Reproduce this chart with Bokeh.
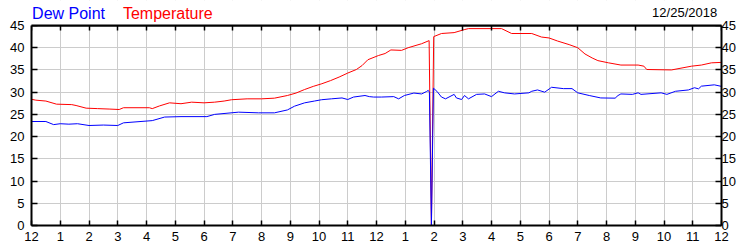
from bokeh.plotting import figure
from bokeh.models import Range1d, LinearAxis, FixedTicker, Label, BoxAnnotation, Span
from bokeh.embed import file_html
from bokeh.resources import INLINE

# ---- data ----
hour_labels = ["12", "1", "2", "3", "4", "5", "6", "7", "8", "9", "10", "11",
               "12", "1", "2", "3", "4", "5", "6", "7", "8", "9", "10", "11", "12"]
y_ticks = [0, 5, 10, 15, 20, 25, 30, 35, 40, 45]

temp_hours = [0.0, 0.15, 0.5, 0.87, 1.4, 1.55, 1.9, 2.3, 2.7, 3.05, 3.2, 3.6, 4.1, 4.2,
              4.45, 4.8, 5.2, 5.57, 6.0, 6.37, 6.7, 6.96, 7.5, 8.0, 8.45, 8.9, 9.2, 9.5,
              9.8, 10.1, 10.4, 10.7, 11.0, 11.3, 11.5, 11.7, 12.07, 12.3, 12.5, 12.87,
              13.1, 13.57, 13.83, 13.91, 13.99, 14.26, 14.7, 15.07, 15.2, 16.35, 16.7,
              17.4, 17.74, 18.0, 18.3, 18.7, 19.0, 19.25, 19.5, 19.7, 20.07, 20.5, 21.1,
              21.3, 21.4, 22.26, 22.96, 23.3, 23.65, 24.0]
temperature = [28.4, 28.2, 28.0, 27.3, 27.2, 27.0, 26.4, 26.3, 26.2, 26.1, 26.5, 26.5,
               26.5, 26.3, 26.9, 27.6, 27.4, 27.75, 27.6, 27.75, 28.0, 28.3, 28.5, 28.5,
               28.65, 29.25, 29.8, 30.6, 31.3, 31.9, 32.6, 33.4, 34.3, 35.1, 36.0, 37.3,
               38.25, 38.7, 39.5, 39.4, 40.0, 40.9, 41.6, 0.0, 42.5, 43.2, 43.4, 44.1,
               44.3, 44.3, 43.2, 43.2, 42.4, 42.2, 41.5, 40.7, 40.0, 38.6, 37.7, 37.1,
               36.6, 36.1, 36.1, 35.85, 35.1, 35.0, 35.85, 36.1, 36.6, 36.7]

dew_hours = [0.0, 0.5, 0.77, 1.0, 1.3, 1.6, 2.0, 2.5, 3.0, 3.2, 3.6, 4.2, 4.63, 5.2, 6.1,
             6.37, 7.2, 7.9, 8.45, 8.9, 9.15, 9.5, 9.84, 10.09, 10.43, 10.8, 11.0, 11.2,
             11.6, 11.75, 11.9, 12.17, 12.6, 12.77, 12.97, 13.3, 13.57, 13.74, 13.8,
             13.84, 13.91, 13.98, 14.1, 14.26, 14.4, 14.7, 14.78, 14.96, 15.06, 15.2,
             15.48, 15.76, 16.0, 16.24, 16.45, 16.8, 17.3, 17.4, 17.6, 17.85, 18.09,
             18.5, 18.8, 19.0, 19.4, 19.8, 20.3, 20.4, 20.5, 20.9, 21.1, 21.2, 21.9,
             22.1, 22.4, 22.85, 23.06, 23.2, 23.3, 23.75, 24.0]
dew_point = [23.4, 23.4, 22.7, 22.9, 22.8, 22.9, 22.5, 22.6, 22.5, 23.1, 23.3, 23.6, 24.4,
             24.5, 24.5, 25.0, 25.5, 25.35, 25.35, 26.0, 26.85, 27.6, 28.0, 28.3, 28.5,
             28.7, 28.35, 28.9, 29.25, 29.0, 28.9, 28.9, 29.0, 28.5, 29.25, 29.8, 29.6,
             30.15, 30.4, 30.0, 0.0, 30.9, 30.2, 28.9, 28.5, 29.5, 28.7, 28.35, 29.25,
             28.5, 29.5, 29.6, 29.0, 30.2, 29.85, 29.6, 29.85, 30.2, 30.5, 30.0, 31.1,
             30.8, 30.8, 29.85, 29.25, 28.7, 28.65, 29.25, 29.6, 29.5, 29.85, 29.5, 29.85,
             29.5, 30.2, 30.5, 31.0, 30.75, 31.35, 31.65, 31.3]

series_names = ["Dew Point", "Temperature"]
series_colors = ["#0000ff", "#ff0000"]
date_text = "12/25/2018"

FONT = "Liberation Sans"
Y_TOP = 45
Y_MAX = 50.625  # frame extends above the plotted box to host the header texts

p = figure(width=750, height=250, output_backend="svg", toolbar_location=None,
           x_range=Range1d(0, 24), y_range=Range1d(0, Y_MAX),
           x_axis_location=None, y_axis_location=None,
           min_border_left=31, min_border_right=29, min_border_top=0, min_border_bottom=25)
p.background_fill_color = "white"
p.border_fill_color = "white"
p.outline_line_color = None

hour_ticks = list(range(len(hour_labels)))
overrides = {i: lab for i, lab in enumerate(hour_labels)}


def style_axis(ax, ticks, labels=True, standoff=6):
    ax.ticker = FixedTicker(ticks=ticks)
    ax.major_tick_in = 5
    ax.major_tick_out = 0
    ax.minor_tick_line_color = None
    ax.axis_line_color = "black"
    ax.axis_line_width = 2
    ax.major_tick_line_color = "black"
    ax.major_tick_line_width = 1.5
    ax.major_label_standoff = standoff
    ax.major_label_text_font = FONT
    ax.major_label_text_font_size = "13px"
    ax.major_label_text_color = "black"
    if not labels:
        ax.major_label_standoff = 0
        ax.major_label_text_font_size = "0px"
        ax.major_label_text_color = None


p.xgrid.ticker = FixedTicker(ticks=hour_ticks)
p.ygrid.ticker = FixedTicker(ticks=y_ticks)
for g in (p.xgrid, p.ygrid):
    g.grid_line_color = "#cccccc"
    g.grid_line_width = 1

left = LinearAxis(bounds=(0, Y_TOP))
style_axis(left, y_ticks, standoff=7)
left.major_tick_in = 6
p.add_layout(left, "left")

right = LinearAxis(bounds=(0, Y_TOP))
style_axis(right, y_ticks, standoff=0)
right.major_tick_in = 6
p.add_layout(right, "right")

below = LinearAxis()
style_axis(below, hour_ticks, standoff=6)
below.major_label_overrides = overrides
p.add_layout(below, "below")

above = LinearAxis(fixed_location=Y_TOP)
style_axis(above, hour_ticks, labels=False)
p.add_layout(above, "above")

p.line(temp_hours, temperature, line_color=series_colors[1], line_width=1)
p.line(dew_hours, dew_point, line_color=series_colors[0], line_width=1)

# header band above the plotted box
p.add_layout(BoxAnnotation(bottom=Y_TOP, fill_color="white", fill_alpha=1.0,
                           line_color=None))
p.add_layout(Span(location=Y_TOP, dimension="width", line_color="black", line_width=2))

p.add_layout(Label(x=0.02, y=47.6, text=series_names[0], text_color=series_colors[0],
                   text_font=FONT, text_font_size="16px", text_baseline="alphabetic"))
p.add_layout(Label(x=3.18, y=47.6, text=series_names[1], text_color=series_colors[1],
                   text_font=FONT, text_font_size="16px", text_baseline="alphabetic"))
p.add_layout(Label(x=23.85, y=47.9, text=date_text, text_color="black", text_align="right",
                   text_font=FONT, text_font_size="13px", text_baseline="alphabetic"))

open("out.html", "w").write(file_html(p, INLINE))
